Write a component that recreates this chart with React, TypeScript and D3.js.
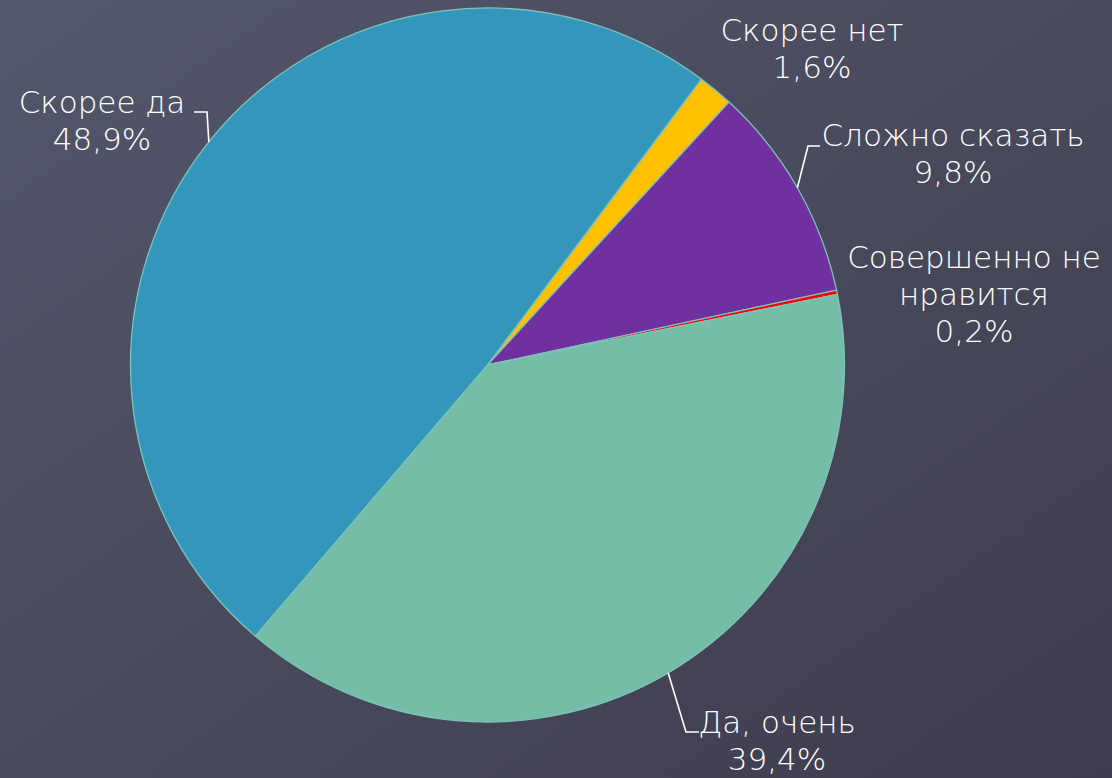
import React from "react";
import * as d3 from "d3";

// Slices in clockwise order, starting at the "Скорее нет" slice
const categories = ["Скорее нет", "Сложно сказать", "Совершенно не нравится", "Да, очень", "Скорее да"];
const values = [1.6, 9.8, 0.2, 39.4, 48.9];
const valueLabels = ["1,6%", "9,8%", "0,2%", "39,4%", "48,9%"];
const colors = ["#FFC000", "#7030A0", "#FF0000", "#75BDA7", "#3496BB"];
// label text lines (category wrapped, then value)
const labelLines = [
  ["Скорее нет", valueLabels[0]],
  ["Сложно сказать", valueLabels[1]],
  ["Совершенно не", "нравится", valueLabels[2]],
  ["Да, очень", valueLabels[3]],
  ["Скорее да", valueLabels[4]],
];

const W = 1112;
const H = 778;
const cx = 487.5;
const cy = 365;
const R = 357;
const startDeg = 36.8;

// label layout: anchor (centre x, first baseline y), optional leader elbow
const labelPos = [
  { x: 812, y: 41, leader: null },
  { x: 953, y: 146, leader: { ex: 808, ey: 146, hx: 820 } },
  { x: 974, y: 268, leader: null },
  { x: 777, y: 733, leader: { ex: 686, ey: 732, hx: 699 } },
  { x: 102, y: 113, leader: { ex: 207, ey: 112, hx: 194 } },
];
const lineSpacing = 37;

export default function App() {
  const start = (startDeg * Math.PI) / 180;
  const pie = d3
    .pie<number>()
    .sort(null)
    .value((d) => d)
    .startAngle(start)
    .endAngle(start + 2 * Math.PI);
  const arcs = pie(values);
  const arc = d3.arc<d3.PieArcDatum<number>>().innerRadius(0).outerRadius(R);
  const edge = d3.arc<d3.PieArcDatum<number>>().innerRadius(R).outerRadius(R);

  return (
    <div style={{ position: "fixed", left: 0, top: 0, width: W, height: H }}>
      <svg width={W} height={H} style={{ display: "block" }}>
        <defs>
          <linearGradient id="bg" x1="0" y1="0" x2="1" y2="1">
            <stop offset="0%" stopColor="#53576b" />
            <stop offset="100%" stopColor="#3e3c4e" />
          </linearGradient>
        </defs>
        <rect x={0} y={0} width={W} height={H} fill="url(#bg)" />
        <g transform={`translate(${cx},${cy})`}>
          {arcs.map((a, i) => (
            <path key={categories[i]} d={arc(a) || ""} fill={colors[i]} stroke="#7cc3b9" strokeWidth={1.3} strokeLinejoin="round" />
          ))}
        </g>
        {arcs.map((a, i) => {
          const lp = labelPos[i];
          if (!lp.leader) return null;
          const [px, py] = edge.centroid(a);
          const { ex, ey, hx } = lp.leader;
          return (
            <polyline
              key={"l" + i}
              points={`${cx + px},${cy + py} ${ex},${ey} ${hx},${ey}`}
              fill="none"
              stroke="#ffffff"
              strokeWidth={1.6}
            />
          );
        })}
        {labelLines.map((lines, i) => (
          <text
            key={"t" + i}
            x={labelPos[i].x}
            y={labelPos[i].y}
            textAnchor="middle"
            fill="#ffffff"
            fontFamily="'DejaVu Sans', sans-serif"
            fontWeight={300}
            fontSize={31}
          >
            {lines.map((ln, j) => (
              <tspan key={j} x={labelPos[i].x} y={labelPos[i].y + j * lineSpacing}>
                {ln}
              </tspan>
            ))}
          </text>
        ))}
      </svg>
    </div>
  );
}
